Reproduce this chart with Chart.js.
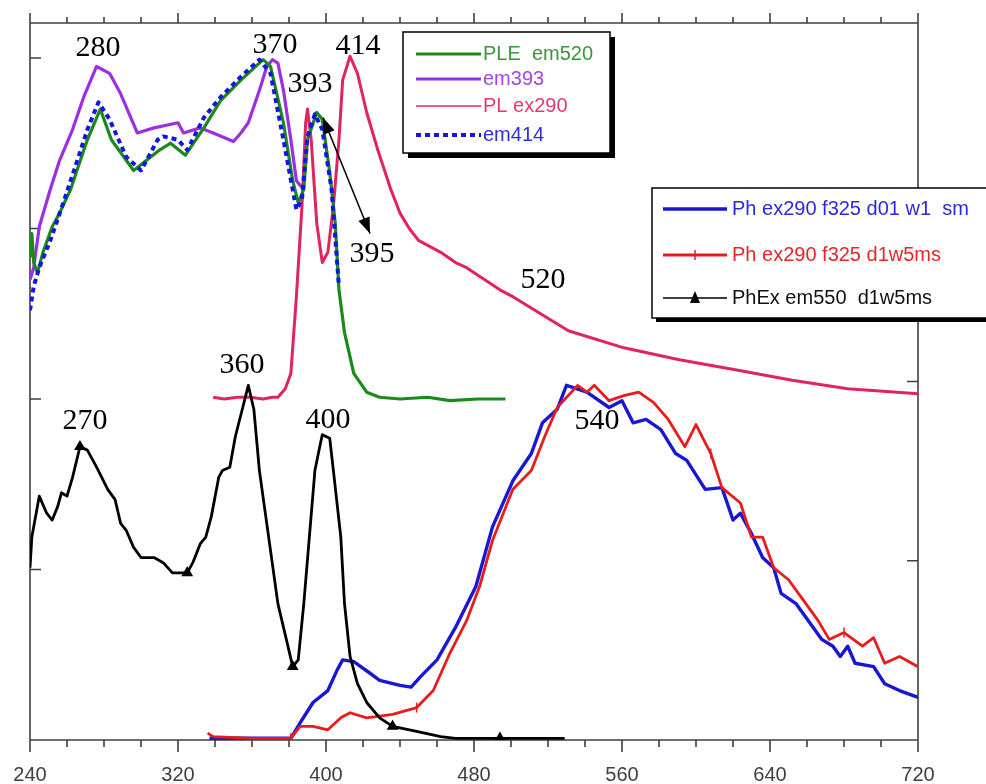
<!DOCTYPE html>
<html>
<head>
<meta charset="utf-8">
<script src="https://cdn.jsdelivr.net/npm/chart.js@4.4.1/dist/chart.umd.min.js"></script>
<style>
  html, body { margin: 0; padding: 0; background: #fff; }
  canvas { display: block; }
</style>
</head>
<body>
<canvas id="myChart" width="986" height="784"></canvas>
<script>
// wavelength in nm, intensity in arbitrary units (one left tick = 1)
const pleEm520X = [240, 241, 242, 244, 247, 252, 256, 262, 266, 271, 278, 284, 296, 303, 310, 316, 324, 334, 343, 354, 366, 370, 377, 382, 385, 388, 390, 395, 398, 402, 405, 407, 410, 415, 422, 429, 440, 455, 467, 482, 497];
const pleEm520Y = [2.83, 2.97, 2.80, 2.74, 2.86, 3.01, 3.09, 3.23, 3.36, 3.52, 3.70, 3.52, 3.34, 3.40, 3.46, 3.50, 3.43, 3.59, 3.75, 3.87, 3.99, 3.95, 3.62, 3.28, 3.15, 3.23, 3.52, 3.68, 3.64, 3.33, 3.03, 2.64, 2.39, 2.15, 2.04, 2.01, 2.00, 2.01, 1.99, 2.00, 2.00];

const em393X = [240, 242, 245, 251, 256, 263, 269, 276, 283, 289, 298, 307, 320, 323, 332, 339, 350, 354, 358, 364, 368, 371, 374, 377, 381, 384, 387];
const em393Y = [2.70, 2.77, 3.01, 3.23, 3.40, 3.58, 3.77, 3.95, 3.91, 3.79, 3.56, 3.59, 3.62, 3.56, 3.59, 3.56, 3.51, 3.56, 3.62, 3.81, 3.95, 3.99, 3.97, 3.81, 3.52, 3.28, 3.24];

const plEx290X = [339, 345, 352, 359, 366, 371, 374, 378, 381, 384, 387, 389, 390, 392, 395, 398, 401, 404, 407, 409, 413, 417, 422, 428, 435, 440, 445, 450, 462, 470, 476, 494, 501, 531, 561, 591, 622, 652, 682, 720];
const plEx290Y = [2.01, 2.00, 2.01, 2.01, 2.00, 2.01, 2.01, 2.06, 2.15, 2.60, 3.13, 3.62, 3.70, 3.52, 3.03, 2.80, 2.86, 3.13, 3.52, 3.87, 4.01, 3.91, 3.68, 3.46, 3.23, 3.09, 3.00, 2.93, 2.86, 2.80, 2.77, 2.64, 2.60, 2.40, 2.30, 2.23, 2.17, 2.11, 2.06, 2.03];

const em414X = [240, 242, 245, 251, 258, 265, 271, 277, 283, 292, 300, 309, 312, 320, 325, 334, 343, 354, 364, 370, 377, 384, 387, 390, 394, 398, 403, 407];
const em414Y = [2.52, 2.66, 2.77, 2.93, 3.15, 3.38, 3.58, 3.74, 3.64, 3.42, 3.34, 3.52, 3.54, 3.52, 3.46, 3.65, 3.77, 3.89, 3.99, 3.91, 3.52, 3.11, 3.17, 3.54, 3.67, 3.58, 3.23, 2.66];

const phD01X = [337, 360, 381, 386, 393, 401, 406, 409, 415, 424, 429, 440, 446, 451, 460, 470, 481, 490, 501, 511, 517, 525, 530, 541, 553, 560, 566, 573, 581, 589, 595, 605, 614, 620, 624, 630, 636, 642, 646, 654, 658, 668, 674, 678, 682, 686, 696, 702, 710, 720];
const phD01Y = [0.01, 0.01, 0.01, 0.10, 0.22, 0.29, 0.41, 0.47, 0.46, 0.39, 0.35, 0.32, 0.31, 0.37, 0.47, 0.66, 0.90, 1.25, 1.52, 1.68, 1.86, 1.94, 2.08, 2.04, 1.95, 1.99, 1.86, 1.88, 1.82, 1.68, 1.64, 1.47, 1.48, 1.29, 1.33, 1.21, 1.07, 1.01, 0.86, 0.80, 0.74, 0.59, 0.55, 0.49, 0.55, 0.45, 0.43, 0.33, 0.29, 0.25];

const phD1X = [336, 339, 360, 381, 386, 393, 401, 408, 413, 422, 436, 449, 458, 467, 476, 483, 490, 501, 511, 519, 525, 536, 541, 545, 553, 561, 569, 577, 585, 594, 600, 608, 614, 624, 630, 636, 642, 650, 658, 666, 672, 680, 690, 696, 702, 710, 720];
const phD1Y = [0.04, 0.02, 0.01, 0.01, 0.08, 0.08, 0.06, 0.13, 0.16, 0.13, 0.15, 0.19, 0.29, 0.51, 0.70, 0.90, 1.17, 1.47, 1.58, 1.80, 1.95, 2.08, 2.04, 2.08, 1.99, 2.02, 2.04, 1.98, 1.88, 1.72, 1.85, 1.68, 1.48, 1.39, 1.19, 1.19, 1.01, 0.94, 0.82, 0.70, 0.59, 0.63, 0.55, 0.60, 0.45, 0.49, 0.43];

const phExX = [240, 241, 244, 245, 249, 252, 255, 257, 260, 263, 267, 271, 276, 282, 286, 289, 292, 296, 300, 307, 312, 317, 325, 328, 332, 335, 338, 342, 344, 348, 351, 355, 358, 361, 364, 369, 374, 379, 382, 385, 388, 391, 394, 397, 398, 402, 404, 408, 410, 413, 417, 422, 429, 436, 449, 462, 470, 494, 529];
const phExY = [1.01, 1.19, 1.37, 1.43, 1.33, 1.29, 1.37, 1.45, 1.43, 1.54, 1.72, 1.70, 1.60, 1.47, 1.41, 1.27, 1.23, 1.13, 1.07, 1.07, 1.04, 0.98, 0.98, 1.04, 1.15, 1.19, 1.31, 1.54, 1.58, 1.60, 1.78, 1.95, 2.08, 1.94, 1.58, 1.19, 0.80, 0.57, 0.43, 0.47, 0.80, 1.19, 1.58, 1.74, 1.79, 1.77, 1.58, 1.19, 0.80, 0.49, 0.33, 0.22, 0.13, 0.08, 0.05, 0.02, 0.01, 0.01, 0.01];

// wavelengths where the original drew symbols on the curves
const phD1MarkX = [381, 449, 608, 680];
const phExMarkX = [267, 325, 382, 436, 494];

// peak labels written on the plot (data coordinates)
const peakText = ['280', '370', '414', '393', '395', '520', '360', '270', '400', '540'];
const peakX = [276.8, 372.4, 417.3, 391.4, 424.9, 517.3, 354.6, 269.7, 401.1, 546.5];
const peakY = [4.07, 4.09, 4.08, 3.86, 2.86, 2.71, 2.21, 1.88, 1.89, 1.88];

const toPoints = (xs, ys) => xs.map((x, i) => ({ x: x, y: ys[i] }));

Chart.defaults.font.family = '"Liberation Sans", Arial, sans-serif';

const framePlugin = {
  id: 'frame',
  beforeDatasetsDraw(chart) {
    const { ctx, chartArea: a, scales } = chart;
    const x = scales.x, y = scales.y, y2 = scales.y2;
    ctx.save();
    ctx.strokeStyle = '#404040';
    ctx.lineWidth = 1.6;
    ctx.beginPath();
    ctx.moveTo(a.left, a.top - 10); ctx.lineTo(a.left, a.bottom + 12);
    ctx.moveTo(a.right, a.top - 10); ctx.lineTo(a.right, a.bottom + 12);
    ctx.moveTo(a.left, a.top); ctx.lineTo(a.right, a.top);
    ctx.moveTo(a.left, a.bottom); ctx.lineTo(a.right, a.bottom);
    for (let v = 240; v <= 720; v += 20) {
      const px = x.getPixelForValue(v);
      const major = v % 80 === 0;
      ctx.moveTo(px, a.top); ctx.lineTo(px, a.top - (major ? 10 : 6));
      ctx.moveTo(px, a.bottom); ctx.lineTo(px, a.bottom + (major ? 12 : 7));
    }
    for (let v = 1; v <= 4; v++) {
      const py = y.getPixelForValue(v);
      ctx.moveTo(a.left, py); ctx.lineTo(a.left + 11, py);
    }
    for (let v = 1; v <= 3; v++) {
      const py = y2.getPixelForValue(v);
      ctx.moveTo(a.right, py); ctx.lineTo(a.right - 11, py);
    }
    ctx.stroke();
    ctx.restore();
  }
};

function arrowHead(ctx, x1, y1, x2, y2) {
  const ang = Math.atan2(y2 - y1, x2 - x1);
  const len = 16, half = 6;
  ctx.beginPath();
  ctx.moveTo(x2, y2);
  ctx.lineTo(x2 - len * Math.cos(ang) + half * Math.sin(ang), y2 - len * Math.sin(ang) - half * Math.cos(ang));
  ctx.lineTo(x2 - len * Math.cos(ang) - half * Math.sin(ang), y2 - len * Math.sin(ang) + half * Math.cos(ang));
  ctx.closePath();
  ctx.fill();
}

const notesPlugin = {
  id: 'notes',
  afterDatasetsDraw(chart) {
    const { ctx, scales: { x, y } } = chart;
    ctx.save();
    ctx.fillStyle = '#000';
    ctx.font = '30px "Liberation Serif", "Times New Roman", serif';
    ctx.textAlign = 'center';
    ctx.textBaseline = 'alphabetic';
    peakText.forEach((t, i) => {
      ctx.fillText(t, x.getPixelForValue(peakX[i]), y.getPixelForValue(peakY[i]) + 10);
    });

    // double headed arrow from the 395 peak to its label
    const ax1 = x.getPixelForValue(398.4), ay1 = y.getPixelForValue(3.65);
    const ax2 = x.getPixelForValue(423.8), ay2 = y.getPixelForValue(2.97);
    ctx.strokeStyle = '#000';
    ctx.lineWidth = 1.5;
    ctx.beginPath();
    ctx.moveTo(ax1, ay1);
    ctx.lineTo(ax2, ay2);
    ctx.stroke();
    arrowHead(ctx, ax2, ay2, ax1, ay1);
    arrowHead(ctx, ax1, ay1, ax2, ay2);
    ctx.restore();
  }
};

function drawBox(ctx, l, t, r, b, shadow) {
  ctx.fillStyle = '#000';
  ctx.fillRect(l + shadow, t + shadow, r - l, b - t);
  ctx.fillStyle = '#fff';
  ctx.fillRect(l, t, r - l, b - t);
  ctx.strokeStyle = '#000';
  ctx.lineWidth = 1.5;
  ctx.strokeRect(l, t, r - l, b - t);
}

const legendPlugin = {
  id: 'boxLegends',
  afterDraw(chart) {
    const { ctx } = chart;
    const ds = chart.data.datasets;
    ctx.save();
    ctx.font = '20px "Liberation Sans", Arial, sans-serif';
    ctx.textBaseline = 'middle';

    // excitation / emission legend
    drawBox(ctx, 403, 32, 610, 153, 5);
    const rows1 = [[0, 54, '#3a963a'], [1, 79, '#a346de'], [2, 106, '#e6386c'], [3, 135, '#2d2de0']];
    rows1.forEach(([i, ly, tc]) => {
      const d = ds[i];
      ctx.strokeStyle = d.borderColor;
      ctx.lineWidth = i === 2 ? 1.6 : d.borderWidth;
      ctx.setLineDash(d.borderDash || []);
      ctx.beginPath();
      ctx.moveTo(416, ly);
      ctx.lineTo(481, ly);
      ctx.stroke();
      ctx.setLineDash([]);
      ctx.fillStyle = tc;
      ctx.fillText(d.label, 483, ly);
    });

    // phosphorescence legend
    drawBox(ctx, 652, 188, 995, 318, 4);
    const rows2 = [[4, 209, '#2a2ae0'], [5, 255, '#e42828'], [6, 298, '#111']];
    rows2.forEach(([i, ly, tc]) => {
      const d = ds[i];
      ctx.strokeStyle = d.borderColor;
      ctx.fillStyle = d.borderColor;
      ctx.lineWidth = i === 6 ? 1.5 : d.borderWidth;
      ctx.beginPath();
      ctx.moveTo(663, ly);
      ctx.lineTo(727, ly);
      ctx.stroke();
      if (i === 5) {
        ctx.lineWidth = 1.5;
        ctx.beginPath();
        ctx.moveTo(695, ly - 5);
        ctx.lineTo(695, ly + 5);
        ctx.stroke();
      }
      if (i === 6) {
        ctx.beginPath();
        ctx.moveTo(695, ly - 7);
        ctx.lineTo(700, ly + 5);
        ctx.lineTo(690, ly + 5);
        ctx.closePath();
        ctx.fill();
      }
      ctx.fillStyle = tc;
      ctx.fillText(d.label, 732, ly);
    });
    ctx.restore();
  }
};

const lineDefaults = { pointRadius: 0, tension: 0, fill: false, borderJoinStyle: 'round' };

const chart = new Chart(document.getElementById('myChart'), {
  type: 'line',
  data: {
    datasets: [
      { ...lineDefaults, label: 'PLE  em520', data: toPoints(pleEm520X, pleEm520Y), borderColor: '#1b8a1b', borderWidth: 3.2, order: 5 },
      { ...lineDefaults, label: 'em393', data: toPoints(em393X, em393Y), borderColor: '#9c2fe0', borderWidth: 3.2, order: 6 },
      { ...lineDefaults, label: 'PL ex290', data: toPoints(plEx290X, plEx290Y), borderColor: '#e0245e', borderWidth: 3, order: 7 },
      { ...lineDefaults, label: 'em414', data: toPoints(em414X, em414Y), borderColor: '#1414e6', borderWidth: 4, borderDash: [5, 4], order: 4 },
      { ...lineDefaults, label: 'Ph ex290 f325 d01 w1  sm', data: toPoints(phD01X, phD01Y), borderColor: '#1818d4', borderWidth: 3.4, order: 3 },
      {
        ...lineDefaults, label: 'Ph ex290 f325 d1w5ms', data: toPoints(phD1X, phD1Y), borderColor: '#e81c1c', borderWidth: 2.8, order: 2,
        pointStyle: 'line', pointRotation: 90, pointBorderWidth: 1.5,
        pointRadius: c => (c.raw && phD1MarkX.includes(c.raw.x) ? 5 : 0)
      },
      {
        ...lineDefaults, label: 'PhEx em550  d1w5ms', data: toPoints(phExX, phExY), borderColor: '#000', borderWidth: 2.8, order: 1,
        pointStyle: 'triangle', pointBackgroundColor: '#000',
        pointRadius: c => (c.raw && phExMarkX.includes(c.raw.x) ? 4 : 0)
      }
    ]
  },
  options: {
    responsive: false,
    animation: false,
    layout: { padding: { top: 23, right: 68, left: 0, bottom: 0 } },
    plugins: { legend: { display: false }, tooltip: { enabled: false } },
    scales: {
      x: {
        type: 'linear',
        position: 'bottom',
        min: 240,
        max: 720,
        grid: { display: false, drawTicks: true, tickLength: 20 },
        border: { display: false },
        ticks: { stepSize: 80, padding: 3, color: '#404040', font: { size: 20 } },
        afterFit: axis => { axis.height = 44; }
      },
      y: {
        position: 'left',
        min: 0,
        max: 4.205,
        grid: { display: false, drawTicks: false },
        border: { display: false },
        ticks: { display: false },
        afterFit: axis => { axis.width = 30; }
      },
      y2: {
        position: 'right',
        min: 0,
        max: 4,
        grid: { display: false, drawTicks: false },
        border: { display: false },
        ticks: { display: false },
        afterFit: axis => { axis.width = 0; }
      }
    }
  },
  plugins: [framePlugin, notesPlugin, legendPlugin]
});
</script>
</body>
</html>
